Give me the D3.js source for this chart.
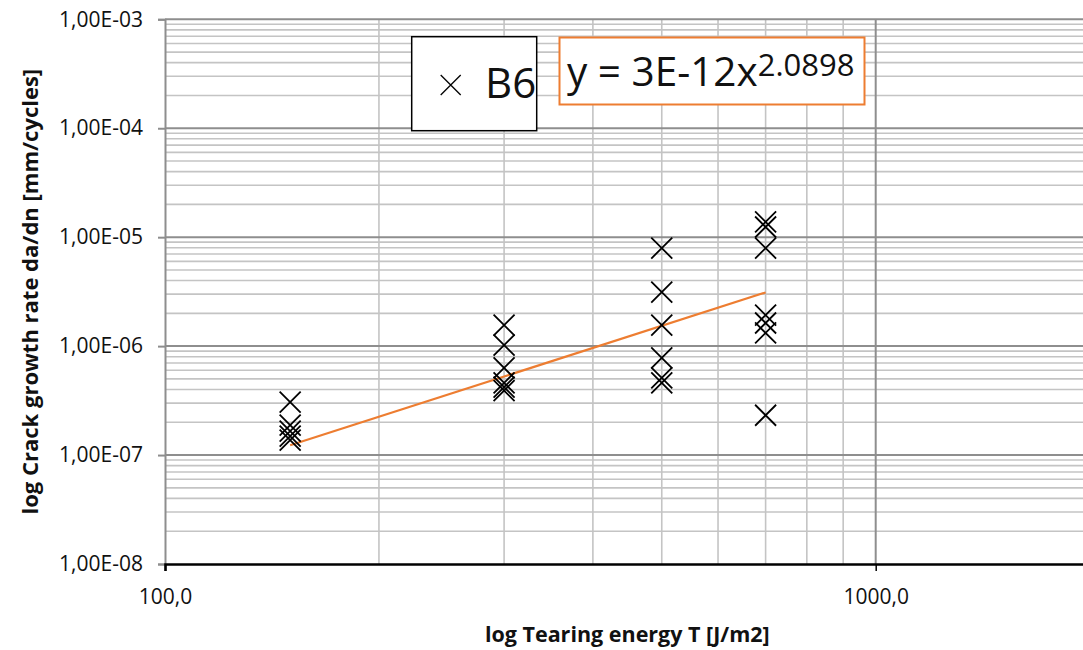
<!DOCTYPE html>
<html>
<head>
<meta charset="utf-8">
<script src="https://cdn.jsdelivr.net/npm/d3@7"></script>
<style>
  html, body { margin: 0; padding: 0; background: #fff; overflow: hidden; }
  svg { display: block; }
  text { font-family: "Open Sans", "Noto Sans", sans-serif; }
</style>
</head>
<body>
<svg id="chart" width="1083" height="650"></svg>
<script>
// ---------- data ----------
const tearingEnergy = [
  150, 150, 150, 150, 150,
  300, 300, 300, 300, 300, 300,
  500, 500, 500, 500, 500, 500,
  700, 700, 700, 700, 700, 700, 700
];
const crackRate = [
  3.06e-7, 1.88e-7, 1.66e-7, 1.49e-7, 1.37e-7,
  1.56e-6, 1.02e-6, 6.3e-7, 4.6e-7, 4.2e-7, 3.9e-7,
  7.94e-6, 3.13e-6, 1.56e-6, 7.8e-7, 5.1e-7, 4.6e-7,
  1.38e-5, 1.24e-5, 7.94e-6, 1.93e-6, 1.63e-6, 1.32e-6, 2.32e-7
];
const trendX = [150, 700];
const trendY = [1.23e-7, 3.11e-6];

const yTicks = [1e-8, 1e-7, 1e-6, 1e-5, 1e-4, 1e-3];
const yTickLabels = ["1,00E-08", "1,00E-07", "1,00E-06", "1,00E-05", "1,00E-04", "1,00E-03"];
const xTicks = [100, 1000];
const xTickLabels = ["100,0", "1000,0"];
const seriesName = "B6";
const equationMain = "y = 3E-12x";
const equationExp = "2.0898";
const xTitle = "log Tearing energy T [J/m2]";
const yTitle = "log Crack growth rate da/dn [mm/cycles]";

// ---------- layout ----------
const svg = d3.select("#chart");
const pLeft = 165, pTop = 19.3, pBottom = 564;
const decadePx = 710.7;
const pRight = pLeft + Math.log10(20) * decadePx;

const x = d3.scaleLog().domain([100, 2000]).range([pLeft, pRight]);
const y = d3.scaleLog().domain([1e-8, 1e-3]).range([pBottom, pTop]);

// minor grid values
const yMinor = [];
for (let e = -8; e < -3; e++) for (let k = 2; k <= 9; k++) yMinor.push(k * Math.pow(10, e));
const xMinor = [];
for (let k = 2; k <= 9; k++) xMinor.push(k * 100);
xMinor.push(2000);

const grid = svg.append("g");
grid.selectAll("line.ym").data(yMinor).join("line")
  .attr("x1", pLeft).attr("x2", pRight)
  .attr("y1", d => y(d)).attr("y2", d => y(d))
  .attr("stroke", "#c4c4c4").attr("stroke-width", 1.6);
grid.selectAll("line.xm").data(xMinor).join("line")
  .attr("y1", pTop).attr("y2", pBottom)
  .attr("x1", d => x(d)).attr("x2", d => x(d))
  .attr("stroke", "#c4c4c4").attr("stroke-width", 1.6);
grid.selectAll("line.yM").data(yTicks.slice(1)).join("line")
  .attr("x1", pLeft).attr("x2", pRight)
  .attr("y1", d => y(d)).attr("y2", d => y(d))
  .attr("stroke", "#8e8e8e").attr("stroke-width", 2);
grid.selectAll("line.xM").data([1000]).join("line")
  .attr("y1", pTop).attr("y2", pBottom)
  .attr("x1", d => x(d)).attr("x2", d => x(d))
  .attr("stroke", "#8e8e8e").attr("stroke-width", 2);

// axes
const yAxis = svg.append("g").attr("transform", `translate(${pLeft},0)`)
  .call(d3.axisLeft(y).tickValues(yTicks).tickFormat((d, i) => yTickLabels[i]).tickSize(7).tickPadding(15));
yAxis.select(".domain").attr("stroke", "#8e8e8e").attr("stroke-width", 2);
yAxis.selectAll(".tick line").attr("stroke", "#8e8e8e").attr("stroke-width", 2);
yAxis.selectAll(".tick text").attr("font-size", 21).attr("fill", "#111")
  .attr("font-family", "'Open Sans', sans-serif");

const xAxis = svg.append("g").attr("transform", `translate(0,${pBottom})`)
  .call(d3.axisBottom(x).tickValues(xTicks).tickFormat((d, i) => xTickLabels[i]).tickSize(7).tickPadding(18));
xAxis.select(".domain").attr("stroke", "#000").attr("stroke-width", 2.5);
xAxis.selectAll(".tick line").attr("stroke", "#000").attr("stroke-width", 1.5);
xAxis.selectAll(".tick text").attr("font-size", 21).attr("fill", "#111")
  .attr("font-family", "'Open Sans', sans-serif");

// trend line
svg.append("line")
  .attr("x1", x(trendX[0])).attr("y1", y(trendY[0]))
  .attr("x2", x(trendX[1])).attr("y2", y(trendY[1]))
  .attr("stroke", "#ED7D31").attr("stroke-width", 2.2);

// markers
const h = 10.5;
const pts = tearingEnergy.map((t, i) => ({ t, r: crackRate[i] }));
svg.append("g").selectAll("path").data(pts).join("path")
  .attr("d", d => {
    const cx = x(d.t), cy = y(d.r);
    return `M${cx - h},${cy - h}L${cx + h},${cy + h}M${cx - h},${cy + h}L${cx + h},${cy - h}`;
  })
  .attr("stroke", "#000").attr("stroke-width", 1.8).attr("fill", "none");

// legend
svg.append("rect").attr("x", 411.7).attr("y", 36.7).attr("width", 125).attr("height", 94)
  .attr("fill", "#fff").attr("stroke", "#000").attr("stroke-width", 1.5);
const lh = 10;
svg.append("path")
  .attr("d", `M${450.7 - lh},${85 - lh}L${450.7 + lh},${85 + lh}M${450.7 - lh},${85 + lh}L${450.7 + lh},${85 - lh}`)
  .attr("stroke", "#000").attr("stroke-width", 1.3).attr("fill", "none");
svg.append("text").attr("x", 485).attr("y", 98).attr("font-size", 42).attr("fill", "#111")
  .text(seriesName);

// equation
svg.append("rect").attr("x", 559.5).attr("y", 37.5).attr("width", 305).attr("height", 67)
  .attr("fill", "#fff").attr("stroke", "#ED7D31").attr("stroke-width", 2);
const eq = svg.append("text").attr("x", 567).attr("y", 86).attr("font-size", 40.5).attr("fill", "#111");
eq.append("tspan").text(equationMain);
eq.append("tspan").attr("dy", -10).attr("font-size", 31).text(equationExp);

// titles
svg.append("text").attr("x", (pLeft + pRight) / 2).attr("y", 642)
  .attr("text-anchor", "middle").attr("font-size", 21.5).attr("font-weight", "bold").attr("fill", "#111")
  .text(xTitle);
svg.append("text").attr("transform", `translate(38,${(pTop + pBottom) / 2}) rotate(-90)`)
  .attr("text-anchor", "middle").attr("font-size", 22).attr("font-weight", "bold").attr("fill", "#111")
  .text(yTitle);
</script>
</body>
</html>
